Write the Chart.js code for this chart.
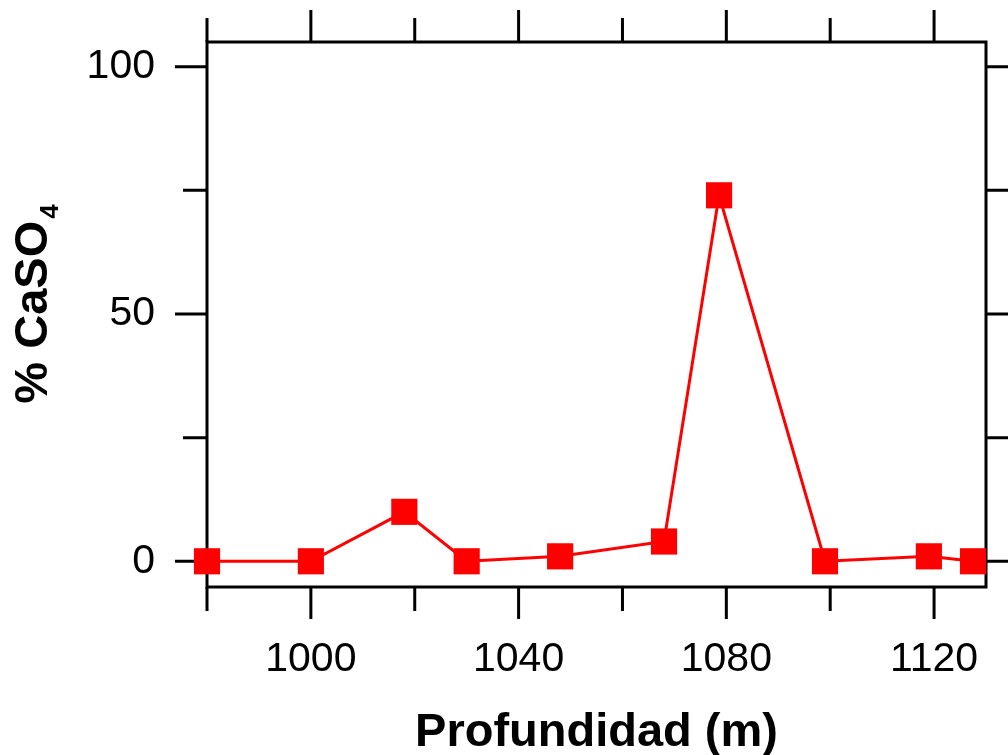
<!DOCTYPE html>
<html>
<head>
<meta charset="utf-8">
<title>% CaSO4 vs Profundidad</title>
<script src="https://cdn.jsdelivr.net/npm/chart.js@4.4.1/dist/chart.umd.min.js"></script>
<style>
  html, body { margin: 0; padding: 0; background: #ffffff; }
  canvas { display: block; }
</style>
</head>
<body>
<canvas id="myChart" width="1008" height="755"></canvas>
<script>
// Profundidad (m) y porcentaje de CaSO4 de cada muestra
const profundidad = [980, 1000, 1018, 1030, 1048, 1068, 1078.6, 1099, 1119, 1127.5];
const caso4 = [0, 0, 10, 0, 1, 4, 74, 0, 1, 0];

// Etiquetas de los ejes
const xTickLabels = [1000, 1040, 1080, 1120];
const yTickLabels = [0, 50, 100];
// Marcas menores (todas) de cada eje
const xTickMarks = [980, 1000, 1020, 1040, 1060, 1080, 1100, 1120];
const yTickMarks = [0, 25, 50, 75, 100];

const fontFamily = '"Liberation Sans", Arial, Helvetica, sans-serif';

// Marco y marcas de los ejes, dibujados antes de la serie
const framePlugin = {
    id: 'frame',
    beforeDatasetsDraw(chart) {
        const ctx = chart.ctx;
        const area = chart.chartArea;
        const xs = chart.scales.x;
        const ys = chart.scales.y;
        ctx.save();
        ctx.strokeStyle = '#000000';
        ctx.lineWidth = 3;
        ctx.lineCap = 'butt';
        ctx.strokeRect(area.left, area.top, area.right - area.left, area.bottom - area.top);

        ctx.beginPath();
        xTickMarks.forEach(v => {
            const px = xs.getPixelForValue(v);
            const len = xTickLabels.includes(v) ? 32 : 24;
            ctx.moveTo(px, area.bottom);
            ctx.lineTo(px, area.bottom + len);
            ctx.moveTo(px, area.top);
            ctx.lineTo(px, area.top - len);
        });
        yTickMarks.forEach(v => {
            const py = ys.getPixelForValue(v);
            const len = yTickLabels.includes(v) ? 32 : 24;
            ctx.moveTo(area.left - len, py);
            ctx.lineTo(area.left, py);
            ctx.moveTo(area.right, py);
            ctx.lineTo(area.right + len, py);
        });
        ctx.stroke();
        ctx.restore();
    },
    afterDraw(chart) {
        const ctx = chart.ctx;
        const area = chart.chartArea;
        ctx.save();
        ctx.fillStyle = '#000000';

        // Título del eje x
        ctx.font = 'bold 47px ' + fontFamily;
        ctx.textAlign = 'center';
        ctx.textBaseline = 'alphabetic';
        ctx.fillText('Profundidad (m)', (area.left + area.right) / 2, 746);

        // Título del eje y, con el subíndice del 4
        ctx.translate(47, 304);
        ctx.rotate(-Math.PI / 2);
        const main = '% CaSO';
        ctx.font = 'bold 47px ' + fontFamily;
        const wMain = ctx.measureText(main).width;
        ctx.font = 'bold 26px ' + fontFamily;
        const wSub = ctx.measureText('4').width;
        const start = -(wMain + wSub + 2) / 2;
        ctx.textAlign = 'left';
        ctx.font = 'bold 47px ' + fontFamily;
        ctx.fillText(main, start, 0);
        ctx.font = 'bold 26px ' + fontFamily;
        ctx.fillText('4', start + wMain + 2, 11);
        ctx.restore();
    }
};

// Sin relleno extra de las escalas: el área del gráfico queda fija
function fixPadding(scale) {
    scale.paddingLeft = 0;
    scale.paddingRight = 0;
    scale.paddingTop = 0;
    scale.paddingBottom = 0;
}

const ctx = document.getElementById('myChart').getContext('2d');
const myChart = new Chart(ctx, {
    type: 'line',
    data: {
        datasets: [{
            label: '% CaSO4',
            data: profundidad.map((p, i) => ({ x: p, y: caso4[i] })),
            borderColor: '#ff0000',
            backgroundColor: '#ff0000',
            borderWidth: 3,
            tension: 0,
            pointStyle: 'rect',
            pointRadius: 18.5,
            pointHoverRadius: 18.5,
            pointBorderWidth: 0,
            pointBackgroundColor: '#ff0000',
            clip: false
        }]
    },
    options: {
        responsive: false,
        animation: false,
        events: [],
        layout: {
            padding: { top: 42, right: 22, left: 0, bottom: 0 }
        },
        plugins: {
            legend: { display: false },
            tooltip: { enabled: false },
            title: { display: false }
        },
        scales: {
            x: {
                type: 'linear',
                position: 'bottom',
                min: 980,
                max: 1130,
                afterBuildTicks: scale => {
                    scale.ticks = xTickLabels.map(v => ({ value: v }));
                },
                afterFit: scale => {
                    scale.height = 168;
                    fixPadding(scale);
                },
                grid: { display: false, drawTicks: false },
                border: { display: false },
                ticks: {
                    padding: 48,
                    color: '#000000',
                    maxRotation: 0,
                    autoSkip: false,
                    callback: value => String(value),
                    font: { family: fontFamily, size: 41 }
                }
            },
            y: {
                type: 'linear',
                position: 'left',
                min: -5.2,
                max: 105,
                afterBuildTicks: scale => {
                    scale.ticks = yTickLabels.map(v => ({ value: v }));
                },
                afterFit: scale => {
                    scale.width = 207;
                    fixPadding(scale);
                },
                grid: { display: false, drawTicks: false },
                border: { display: false },
                ticks: {
                    padding: 52,
                    color: '#000000',
                    autoSkip: false,
                    callback: value => String(value),
                    font: { family: fontFamily, size: 41 }
                }
            }
        }
    },
    plugins: [framePlugin]
});
</script>
</body>
</html>
